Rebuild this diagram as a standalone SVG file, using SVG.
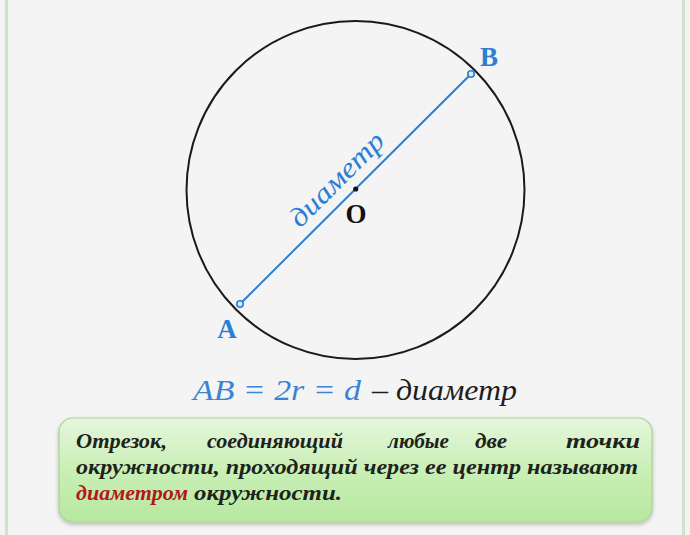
<svg xmlns="http://www.w3.org/2000/svg" width="690" height="535" viewBox="0 0 690 535">
<style>
.lbl{font-family:"Liberation Serif","DejaVu Serif",serif;font-weight:bold;font-size:27px;text-anchor:middle}
.box{font-family:"Liberation Serif","DejaVu Serif",serif;font-weight:bold;font-style:italic;font-size:20.5px;fill:#1d231b}
.frm{font-family:"Liberation Serif","DejaVu Serif",serif;font-style:italic;font-size:30px}
.pt{fill:#d8e9fa;stroke:#2a7fd4;stroke-width:1.6}
</style>
<defs>
<linearGradient id="g" x1="0" y1="0" x2="0" y2="1">
<stop offset="0" stop-color="#e6f6dc"/>
<stop offset="0.5" stop-color="#c9efb6"/>
<stop offset="1" stop-color="#b7e8a0"/>
</linearGradient>
<filter id="sh" x="-5%" y="-10%" width="110%" height="130%">
<feGaussianBlur in="SourceAlpha" stdDeviation="2"/>
<feOffset dx="0" dy="2"/>
<feComponentTransfer><feFuncA type="linear" slope="0.25"/></feComponentTransfer>
<feMerge><feMergeNode/><feMergeNode in="SourceGraphic"/></feMerge>
</filter>
</defs>
<rect width="690" height="535" fill="#f4f4f4"/>
<line x1="6.5" y1="0" x2="6.5" y2="535" stroke="#cfe3c8" stroke-width="3"/>
<line x1="683.5" y1="0" x2="683.5" y2="535" stroke="#cfe3c8" stroke-width="3"/>

<g id="circle">
<circle cx="355.5" cy="190" r="169" fill="none" stroke="#1a1a1a" stroke-width="2"/>
</g>

<g id="connectors">
<line x1="240" y1="304" x2="471" y2="74" stroke="#2a7fd4" stroke-width="2"/>
</g>

<g id="center-O">
<circle cx="355.7" cy="189" r="2.6" fill="#111"/>
<text class="lbl" x="356" y="223" font-size="25" fill="#111">O</text>
</g>

<g id="point-A">
<circle class="pt" cx="240" cy="304" r="3.2"/>
<text class="lbl" x="227" y="338" fill="#2a7fd4">A</text>
</g>

<g id="point-B">
<circle class="pt" cx="471" cy="74" r="3.2"/>
<text class="lbl" x="489" y="66" fill="#2a7fd4">B</text>
</g>

<g id="diameter-label">
<text transform="translate(351,193.5) rotate(-44.9)" x="0" y="-11" text-anchor="middle" font-family="Liberation Serif, DejaVu Serif, serif" font-style="italic" font-size="28" fill="#2a7fd4" textLength="122" lengthAdjust="spacingAndGlyphs">диаметр</text>
</g>

<g id="formula">
<text class="frm" x="193" y="400" fill="#3a84d2" textLength="168" lengthAdjust="spacingAndGlyphs">AB = 2r = d</text>
<text class="frm" x="372" y="400" fill="#1e1e1e" textLength="145" lengthAdjust="spacingAndGlyphs">– диаметр</text>
</g>

<g id="definition">
<rect x="59" y="418" width="593" height="104" rx="14" fill="url(#g)" stroke="#a9d38f" stroke-width="1.2" filter="url(#sh)"/>
<text class="box" x="76" y="448" textLength="91" lengthAdjust="spacingAndGlyphs">Отрезок,</text>
<text class="box" x="207" y="448" textLength="136" lengthAdjust="spacingAndGlyphs">соединяющий</text>
<text class="box" x="388" y="448" textLength="61" lengthAdjust="spacingAndGlyphs">любые</text>
<text class="box" x="475" y="448" textLength="32" lengthAdjust="spacingAndGlyphs">две</text>
<text class="box" x="566" y="448" textLength="74" lengthAdjust="spacingAndGlyphs">точки</text>
<text class="box" x="76" y="474" textLength="562" lengthAdjust="spacingAndGlyphs">окружности, проходящий через ее центр называют</text>
<text class="box" x="76" y="500"><tspan fill="#b3161b" textLength="112" lengthAdjust="spacingAndGlyphs">диаметром</tspan></text>
<text class="box" x="194" y="500" textLength="148" lengthAdjust="spacingAndGlyphs">окружности.</text>
</g>
</svg>
